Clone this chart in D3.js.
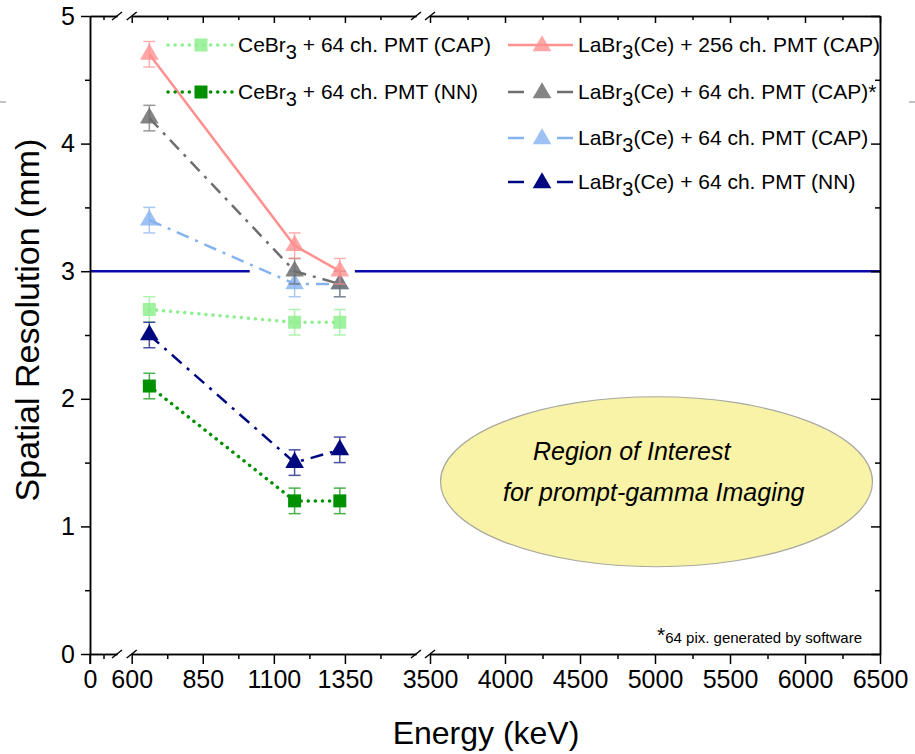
<!DOCTYPE html>
<html>
<head>
<meta charset="utf-8">
<script src="https://cdn.jsdelivr.net/npm/d3@7"></script>
<style>
  body { margin: 0; background: #fff; }
  svg { display: block; font-family: "Liberation Sans", Arial, sans-serif; }
</style>
</head>
<body>
<svg id="chart"></svg>
<script>
var width = 915;
var height = 754;

// measured energies (keV)
var energies = [662, 1173, 1332];

// spatial resolution (mm), one list per detector setup
var cebrCap     = [2.7, 2.6, 2.6];
var cebrNN      = [2.1, 1.2, 1.2];
var labr256Cap  = [4.7, 3.2, 3.0];
var labr64CapSw = [4.2, 3.0, 2.9];
var labr64Cap   = [3.4, 2.9, 2.9];
var labr64NN    = [2.5, 1.5, 1.6];
var errMm = 0.1;

// broken x axis: three pieces
var xDomains = [[0, 500], [600, 1600], [3500, 6500]];
var xMajor = [[0], [600, 850, 1100, 1350], [3500, 4000, 4500, 5000, 5500, 6000, 6500]];
var xMinor = [[250], [725, 975, 1225, 1475], [3750, 4250, 4750, 5250, 5750, 6250]];
var yMajor = [0, 1, 2, 3, 4, 5];
var yMinor = [0.5, 1.5, 2.5, 3.5, 4.5];

// 3 mm line, drawn in two spans (keV)
var limitMm = 3;
var limitSpans = [[0, 1015], [1385, 6500]];

var margin = {left: 90, right: 35, top: 16, bottom: 100};
var plotR = width - margin.right;
var plotB = height - margin.bottom;
var xRanges = [[margin.left, 117], [131.7, 416], [430, plotR]];

var xs = xDomains.map((d, i) => d3.scaleLinear().domain(d).range(xRanges[i]));
function xPos(v) {
  for (var i = 0; i < xs.length; i++) {
    var d = xs[i].domain();
    if (v >= d[0] && v <= d[1]) return xs[i](v);
  }
  return v < 600 ? xs[0](v) : v < 3500 ? xs[1](v) : xs[2](v);
}
var y = d3.scaleLinear().domain([0, 5]).range([plotB, margin.top]);

var series = [
  {label: ["CeBr", "3", " + 64 ch. PMT (CAP)"], values: cebrCap, color: "#8fee8f", dash: "0.1 7", width: 3.5, cap: "round", marker: "square", fillOp: 0.85},
  {label: ["CeBr", "3", " + 64 ch. PMT (NN)"], values: cebrNN, color: "#009000", dash: "0.1 7", width: 3.5, cap: "round", marker: "square", fillOp: 1},
  {label: ["LaBr", "3", "(Ce) + 64 ch. PMT (CAP)"], values: labr64Cap, color: "#86b2f0", dash: "13 7 3 7", width: 2.5, cap: "butt", marker: "triangle", fillOp: 0.8},
  {label: ["LaBr", "3", "(Ce) + 64 ch. PMT (CAP)*"], values: labr64CapSw, color: "#6e6e6e", dash: "13 7 3 7", width: 2.5, cap: "butt", marker: "triangle", fillOp: 0.85},
  {label: ["LaBr", "3", "(Ce) + 256 ch. PMT (CAP)"], values: labr256Cap, color: "#ff9090", dash: null, width: 2.5, cap: "butt", marker: "triangle", fillOp: 0.8},
  {label: ["LaBr", "3", "(Ce) + 64 ch. PMT (NN)"], values: labr64NN, color: "#00087f", dash: "13 7 3 7", width: 2.5, cap: "butt", marker: "triangle", fillOp: 1}
];

// legend placement: [column x, row y]
var legendPos = [[168, 45], [168, 92], [508, 138], [508, 92], [508, 45], [508, 182]];

var svg = d3.select("#chart").attr("width", width).attr("height", height);

function markerPath(kind) {
  return kind === "square"
    ? d3.symbol(d3.symbolSquare, 169)()
    : d3.symbol(d3.symbolTriangle, 150)();
}

// stray marks at the page edges
svg.append("line").attr("x1", 0).attr("x2", 6).attr("y1", 102).attr("y2", 102).attr("stroke", "#999").attr("stroke-width", 1.2);
svg.append("line").attr("x1", 909).attr("x2", 915).attr("y1", 102).attr("y2", 102).attr("stroke", "#999").attr("stroke-width", 1.2);

// region of interest ellipse
var roi = svg.append("g");
roi.append("ellipse")
  .attr("cx", xPos(5010)).attr("cy", y(1.35))
  .attr("rx", 216).attr("ry", 85)
  .attr("fill", "#f8f3a6").attr("stroke", "#a8a8a0").attr("stroke-width", 1.2);
roi.append("text").attr("x", 533).attr("y", 460)
  .attr("font-size", 25).attr("font-style", "italic").text("Region of Interest");
roi.append("text").attr("x", 503).attr("y", 501)
  .attr("font-size", 25).attr("font-style", "italic").text("for prompt-gamma Imaging");

// 3 mm limit line
svg.append("g").selectAll("line")
  .data(limitSpans)
  .join("line")
  .attr("x1", d => xPos(d[0])).attr("x2", d => xPos(d[1]))
  .attr("y1", y(limitMm)).attr("y2", y(limitMm))
  .attr("stroke", "#0a0aa8").attr("stroke-width", 2.5);

// series
var lineGen = d3.line().x(d => xPos(d.e)).y(d => y(d.v));
series.forEach(function (s) {
  var pts = energies.map((e, i) => ({e: e, v: s.values[i]}));
  var g = svg.append("g");
  g.append("path")
    .attr("d", lineGen(pts))
    .attr("fill", "none")
    .attr("stroke", s.color)
    .attr("stroke-width", s.width)
    .attr("stroke-linecap", s.cap)
    .attr("stroke-dasharray", s.dash);

  var eb = g.selectAll("g.err").data(pts).join("g").attr("class", "err")
    .attr("stroke", s.color).attr("stroke-width", 1.5).attr("opacity", 0.7);
  eb.append("line")
    .attr("x1", d => xPos(d.e)).attr("x2", d => xPos(d.e))
    .attr("y1", d => y(d.v - errMm)).attr("y2", d => y(d.v + errMm));
  eb.append("line")
    .attr("x1", d => xPos(d.e) - 6).attr("x2", d => xPos(d.e) + 6)
    .attr("y1", d => y(d.v - errMm)).attr("y2", d => y(d.v - errMm));
  eb.append("line")
    .attr("x1", d => xPos(d.e) - 6).attr("x2", d => xPos(d.e) + 6)
    .attr("y1", d => y(d.v + errMm)).attr("y2", d => y(d.v + errMm));

  g.selectAll("path.mk").data(pts).join("path").attr("class", "mk")
    .attr("d", markerPath(s.marker))
    .attr("transform", d => `translate(${xPos(d.e)},${y(d.v)})`)
    .attr("fill", s.color).attr("fill-opacity", s.fillOp);
});

// legend
var leg = svg.append("g").attr("font-size", 21);
series.forEach(function (s, i) {
  var p = legendPos[i];
  var item = leg.append("g").attr("transform", `translate(${p[0]},${p[1]})`);
  if (s.marker === "square") {
    item.append("line").attr("x1", 0).attr("x2", 65).attr("y1", 0).attr("y2", 0)
      .attr("stroke", s.color).attr("stroke-width", s.width)
      .attr("stroke-linecap", s.cap).attr("stroke-dasharray", s.dash);
  } else if (!s.dash) {
    item.append("line").attr("x1", 0).attr("x2", 65).attr("y1", 0).attr("y2", 0)
      .attr("stroke", s.color).attr("stroke-width", s.width);
  } else {
    [[0, 16], [49, 65]].forEach(function (seg) {
      item.append("line").attr("x1", seg[0]).attr("x2", seg[1]).attr("y1", 0).attr("y2", 0)
        .attr("stroke", s.color).attr("stroke-width", s.width);
    });
  }
  item.append("path").attr("d", markerPath(s.marker))
    .attr("transform", `translate(${s.marker === "square" ? 33 : 34},${s.marker === "square" ? 0 : 1})`)
    .attr("fill", s.color).attr("fill-opacity", s.fillOp);
  var t = item.append("text").attr("x", 70).attr("y", 7);
  t.append("tspan").text(s.label[0]);
  t.append("tspan").attr("dy", 7).attr("font-size", 20).text(s.label[1]);
  t.append("tspan").attr("dy", -7).text(s.label[2]);
});

// axes
var axes = svg.append("g").attr("font-size", 25);

function styleAxis(g) {
  g.selectAll(".tick line").attr("stroke", "#000").attr("stroke-width", 1.5);
  g.selectAll(".domain").attr("stroke", "#000").attr("stroke-width", 1.5);
  g.selectAll("text").attr("fill", "#000").attr("font-family", "inherit").attr("font-size", 25);
}

xs.forEach(function (sc, i) {
  var b = axes.append("g").attr("transform", `translate(0,${plotB})`)
    .call(d3.axisBottom(sc).tickValues(xMajor[i]).tickSize(10).tickSizeOuter(0).tickPadding(6).tickFormat(d3.format("d")));
  styleAxis(b);
  var bm = axes.append("g").attr("transform", `translate(0,${plotB})`)
    .call(d3.axisBottom(sc).tickValues(xMinor[i]).tickSize(5).tickSizeOuter(0).tickFormat(""));
  styleAxis(bm);
  var t = axes.append("g").attr("transform", `translate(0,${margin.top})`)
    .call(d3.axisBottom(sc).tickValues(xMajor[i].filter(v => v !== 0)).tickSize(7).tickSizeOuter(0).tickFormat(""));
  styleAxis(t);
  var tm = axes.append("g").attr("transform", `translate(0,${margin.top})`)
    .call(d3.axisBottom(sc).tickValues(xMinor[i]).tickSize(4).tickSizeOuter(0).tickFormat(""));
  styleAxis(tm);
});

// break marks on top and bottom axis
var breakAt = [xRanges[0][1], xRanges[1][0], xRanges[1][1], xRanges[2][0]];
[margin.top, plotB].forEach(function (yy) {
  axes.append("g").selectAll("line").data(breakAt).join("line")
    .attr("x1", d => d - 5).attr("x2", d => d + 5)
    .attr("y1", yy + 4).attr("y2", yy - 4)
    .attr("stroke", "#000").attr("stroke-width", 1.5);
});

var yl = axes.append("g").attr("transform", `translate(${margin.left},0)`)
  .call(d3.axisLeft(y).tickValues(yMajor).tickSize(9).tickSizeOuter(0).tickPadding(6).tickFormat(d3.format("d")));
styleAxis(yl);
var ylm = axes.append("g").attr("transform", `translate(${margin.left},0)`)
  .call(d3.axisLeft(y).tickValues(yMinor).tickSize(5).tickSizeOuter(0).tickFormat(""));
styleAxis(ylm);
var yr = axes.append("g").attr("transform", `translate(${plotR},0)`)
  .call(d3.axisLeft(y).tickValues(yMajor).tickSize(9).tickSizeOuter(0).tickFormat(""));
styleAxis(yr);
var yrm = axes.append("g").attr("transform", `translate(${plotR},0)`)
  .call(d3.axisLeft(y).tickValues(yMinor).tickSize(5).tickSizeOuter(0).tickFormat(""));
styleAxis(yrm);
// bottom tick at 0 continues the y axis downward
axes.append("line").attr("x1", margin.left).attr("x2", margin.left)
  .attr("y1", plotB).attr("y2", plotB + 10).attr("stroke", "#000").attr("stroke-width", 1.5);

// axis titles
svg.append("text")
  .attr("x", 486).attr("y", 744)
  .attr("text-anchor", "middle").attr("font-size", 32)
  .text("Energy (keV)");
svg.append("text")
  .attr("transform", `translate(39,${(margin.top + plotB) / 2 - 15}) rotate(-90)`)
  .attr("text-anchor", "middle").attr("font-size", 34)
  .text("Spatial Resolution (mm)");

// footnote
var fn = svg.append("text").attr("x", 657).attr("y", 643);
fn.append("tspan").attr("font-size", 21).attr("dy", -1).text("*");
fn.append("tspan").attr("font-size", 15).attr("dy", 1).text("64 pix. generated by software");
</script>
</body>
</html>
